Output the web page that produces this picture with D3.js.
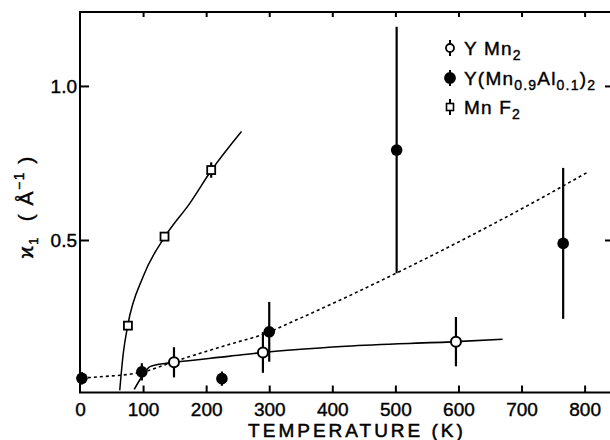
<!DOCTYPE html>
<html>
<head>
<meta charset="utf-8">
<script src="https://cdn.jsdelivr.net/npm/d3@7"></script>
<style>
  body { margin: 0; background: #fff; }
  svg { font-family: "Liberation Sans", Arial, sans-serif; }
</style>
</head>
<body>
<div id="chart"></div>
<script>
// Data
var ymn2T = [149, 290, 596];
var ymn2K = [0.103, 0.135, 0.17];
var ymn2Err = [0.049, 0.066, 0.08];

var alT = [3, 98, 225, 300, 502, 766];
var alK = [0.051, 0.072, 0.05, 0.202, 0.792, 0.489];
var alErr = [0.02, 0.028, 0.023, 0.097, 0.4, 0.245];

var mnf2T = [76, 134, 208];
var mnf2K = [0.222, 0.511, 0.727];
var mnf2Err = [0.01, 0.01, 0.025];

// guide curves
var mnf2CurveT = [63, 68.6, 75.6, 100, 134.7, 174, 208.7, 256];
var mnf2CurveK = [0.012, 0.132, 0.222, 0.381, 0.511, 0.619, 0.727, 0.852];

var ymn2CurveT = [86, 98, 111, 137, 149, 238, 290, 422, 596, 670];
var ymn2CurveK = [0.015, 0.056, 0.089, 0.1, 0.103, 0.123, 0.135, 0.155, 0.17, 0.178];

var alCurveT = [3, 32, 100, 147, 243, 285, 349, 501, 726, 803];
var alCurveK = [0.052, 0.056, 0.072, 0.104, 0.165, 0.19, 0.246, 0.392, 0.63, 0.718];

var xTicks = [0, 100, 200, 300, 400, 500, 600, 700, 800];
var yTicks = [0.5, 1.0];

var width = 610, height = 440;
var plotL = 80, plotR = 613, plotT = 12, plotB = 392.5;

var svg = d3.select("#chart").append("svg")
  .attr("width", width)
  .attr("height", height);

var x = d3.scaleLinear().domain([0, 845]).range([plotL, plotR]);
var y = d3.scaleLinear().domain([0.005, 1.24]).range([plotB, plotT]);

function zip(a, b) { return a.map(function(v, i) { return [v, b[i]]; }); }

// axes (ticks point inward)
var bottomAxis = d3.axisBottom(x).tickValues(xTicks).tickSizeInner(-7).tickSizeOuter(0).tickPadding(10)
  .tickFormat(d3.format("d"));
var gx = svg.append("g").attr("transform", "translate(0," + plotB + ")").call(bottomAxis);
gx.selectAll(".tick").filter(function(d) { return d === 0; }).select("line").remove();

var topAxis = d3.axisTop(x).tickValues(xTicks.slice(1)).tickSizeInner(-5).tickSizeOuter(0).tickFormat("");
svg.append("g").attr("transform", "translate(0," + plotT + ")").call(topAxis);

var leftAxis = d3.axisLeft(y).tickValues(yTicks).tickSizeInner(-9).tickSizeOuter(0).tickPadding(3)
  .tickFormat(d3.format(".1f"));
svg.append("g").attr("transform", "translate(" + plotL + ",0)").call(leftAxis);

var rightAxis = d3.axisRight(y).tickValues(yTicks).tickSizeInner(-8).tickSizeOuter(0).tickFormat("");
svg.append("g").attr("transform", "translate(" + plotR + ",0)").call(rightAxis);

svg.selectAll(".domain").remove();
svg.selectAll(".tick line").attr("stroke", "#000").attr("stroke-width", 2);
svg.selectAll(".tick text").attr("fill", "#000").attr("font-size", 19)
  .attr("stroke", "#000").attr("stroke-width", 0.4)
  .attr("font-family", "Liberation Sans, Arial, sans-serif");

svg.append("rect")
  .attr("x", plotL).attr("y", plotT)
  .attr("width", plotR - plotL).attr("height", plotB - plotT)
  .attr("fill", "none").attr("stroke", "#000").attr("stroke-width", 2);

// axis titles
svg.append("text")
  .attr("x", 357).attr("y", 437)
  .attr("text-anchor", "middle")
  .attr("font-size", 19)
  .attr("letter-spacing", 3)
  .attr("stroke", "#000").attr("stroke-width", 0.5)
  .text("TEMPERATURE (K)");

var yl = svg.append("text")
  .attr("transform", "translate(33,207) rotate(-90)")
  .attr("text-anchor", "middle")
  .attr("font-size", 21)
  .attr("letter-spacing", 1.5)
  .style("white-space", "pre")
  .attr("stroke", "#000").attr("stroke-width", 0.4);
yl.append("tspan").text("ϰ");
yl.append("tspan").attr("font-size", 13).attr("dy", 5).text("1");
yl.append("tspan").attr("dy", -5).text("  ( Å");
yl.append("tspan").attr("font-size", 14).attr("dy", -9).text("−1");
yl.append("tspan").attr("dy", 9).text(" )");

// guide curves
var line = d3.line()
  .x(function(d) { return x(d[0]); })
  .y(function(d) { return y(d[1]); })
  .curve(d3.curveMonotoneX);

svg.append("path").datum(zip(mnf2CurveT, mnf2CurveK))
  .attr("d", line).attr("fill", "none").attr("stroke", "#000").attr("stroke-width", 1.5);
svg.append("path").datum(zip(ymn2CurveT, ymn2CurveK))
  .attr("d", line).attr("fill", "none").attr("stroke", "#000").attr("stroke-width", 1.6);
svg.append("path").datum(zip(alCurveT, alCurveK))
  .attr("d", line).attr("fill", "none").attr("stroke", "#000").attr("stroke-width", 1.6)
  .attr("stroke-dasharray", "3,3");

// error bars
function errBars(T, K, E) {
  svg.append("g").selectAll("line").data(T).enter().append("line")
    .attr("x1", function(d) { return x(d); })
    .attr("x2", function(d) { return x(d); })
    .attr("y1", function(d, i) { return y(K[i] - E[i]); })
    .attr("y2", function(d, i) { return y(K[i] + E[i]); })
    .attr("stroke", "#000").attr("stroke-width", 2.2);
}
errBars(ymn2T, ymn2K, ymn2Err);
errBars(alT, alK, alErr);
errBars(mnf2T, mnf2K, mnf2Err);

// markers
svg.append("g").selectAll("rect").data(mnf2T).enter().append("rect")
  .attr("x", function(d) { return x(d) - 4; })
  .attr("y", function(d, i) { return y(mnf2K[i]) - 4; })
  .attr("width", 8).attr("height", 8)
  .attr("fill", "#fff").attr("stroke", "#000").attr("stroke-width", 1.8);

svg.append("g").selectAll("circle").data(alT).enter().append("circle")
  .attr("cx", function(d) { return x(d); })
  .attr("cy", function(d, i) { return y(alK[i]); })
  .attr("r", 5.8).attr("fill", "#000");

svg.append("g").selectAll("circle").data(ymn2T).enter().append("circle")
  .attr("cx", function(d) { return x(d); })
  .attr("cy", function(d, i) { return y(ymn2K[i]); })
  .attr("r", 5).attr("fill", "#fff").attr("stroke", "#000").attr("stroke-width", 2);

// legend
var legendRows = [48, 78, 107];
var lx = 450, tx = 464;
var lg = svg.append("g");
legendRows.forEach(function(ry, i) {
  lg.append("line").attr("x1", lx).attr("x2", lx).attr("y1", ry - 8).attr("y2", ry + 8)
    .attr("stroke", "#000").attr("stroke-width", 2);
  if (i === 2) {
    lg.append("rect").attr("x", lx - 3.5).attr("y", ry - 3.5).attr("width", 7).attr("height", 7)
      .attr("fill", "#fff").attr("stroke", "#000").attr("stroke-width", 1.6);
  } else {
    lg.append("circle").attr("cx", lx).attr("cy", ry).attr("r", i === 1 ? 5 : 4)
      .attr("fill", i === 1 ? "#000" : "#fff").attr("stroke", "#000").attr("stroke-width", 1.8);
  }
});

function legendText(ry) {
  return lg.append("text").attr("x", tx).attr("y", ry + 7).attr("font-size", 19)
    .attr("letter-spacing", 1.2).attr("stroke", "#000").attr("stroke-width", 0.4);
}
var t1 = legendText(legendRows[0]);
t1.append("tspan").text("Y Mn");
t1.append("tspan").attr("font-size", 14).attr("dy", 5).text("2");

var t2 = legendText(legendRows[1]);
t2.append("tspan").text("Y(Mn");
t2.append("tspan").attr("font-size", 14).attr("dy", 5).text("0.9");
t2.append("tspan").attr("dy", -5).text("Al");
t2.append("tspan").attr("font-size", 14).attr("dy", 5).text("0.1");
t2.append("tspan").attr("dy", -5).text(")");
t2.append("tspan").attr("font-size", 14).attr("dy", 5).text("2");

var t3 = legendText(legendRows[2]);
t3.append("tspan").text("Mn F");
t3.append("tspan").attr("font-size", 14).attr("dy", 5).text("2");
</script>
</body>
</html>
